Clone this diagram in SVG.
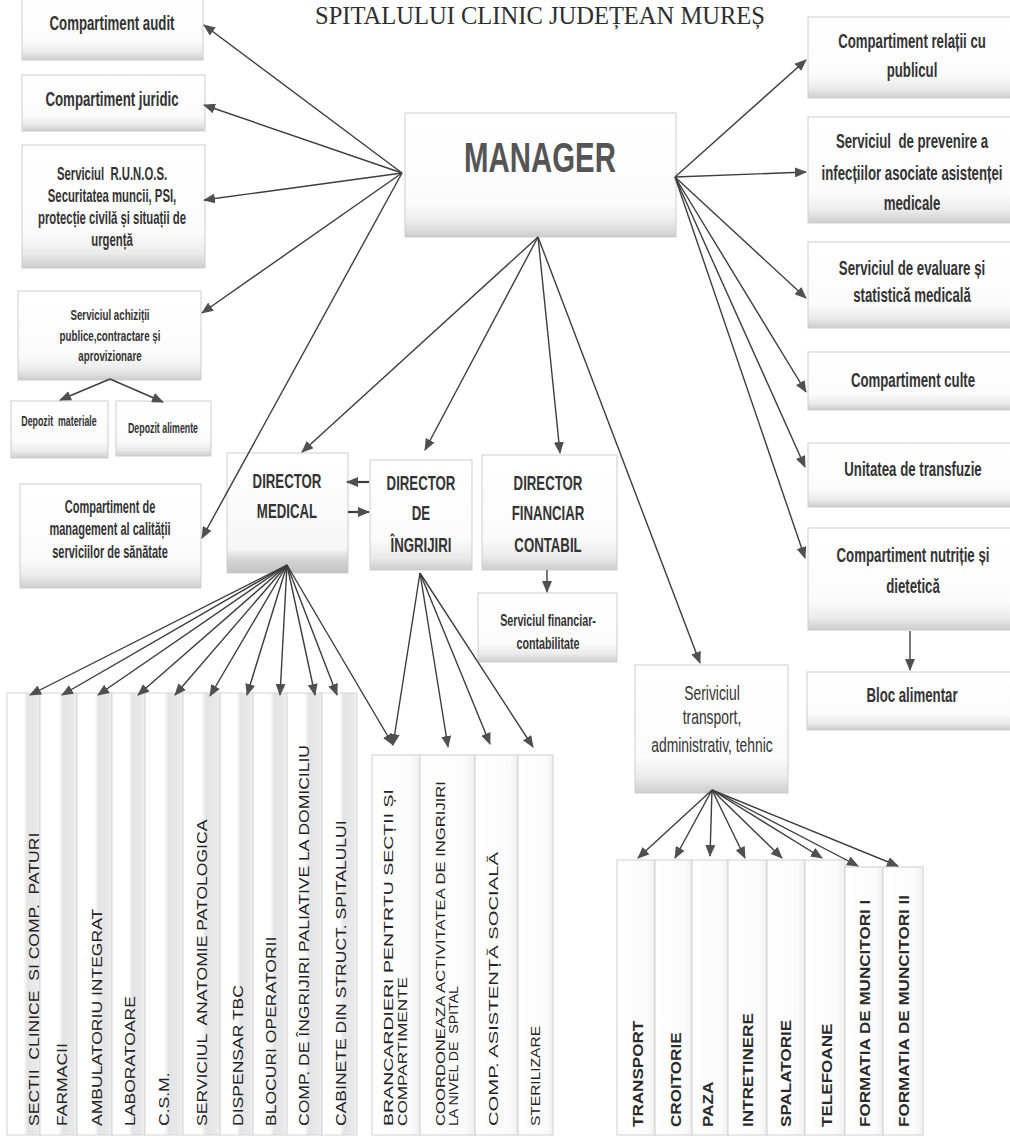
<svg xmlns="http://www.w3.org/2000/svg" width="1010" height="1139" viewBox="0 0 1010 1139">
<defs>
<linearGradient id="gb" x1="0" y1="0" x2="0" y2="1">
<stop offset="0" stop-color="#ffffff"/><stop offset="0.72" stop-color="#fbfbfb"/><stop offset="0.88" stop-color="#ebebeb"/><stop offset="1" stop-color="#cdcdcd"/>
</linearGradient>
<linearGradient id="gd" x1="0" y1="0" x2="0" y2="1">
<stop offset="0" stop-color="#ffffff"/><stop offset="0.8" stop-color="#f6f6f6"/><stop offset="0.88" stop-color="#d6d6d6"/><stop offset="1" stop-color="#c2c2c2"/>
</linearGradient>
<linearGradient id="gc" x1="0" y1="0" x2="1" y2="0">
<stop offset="0" stop-color="#ffffff"/><stop offset="0.5" stop-color="#ffffff"/><stop offset="0.62" stop-color="#e4e4e4"/><stop offset="0.92" stop-color="#e9e9e9"/><stop offset="1" stop-color="#f7f7f7"/>
</linearGradient>
<linearGradient id="gw" x1="0" y1="0" x2="1" y2="0">
<stop offset="0" stop-color="#ffffff"/><stop offset="0.8" stop-color="#fbfbfb"/><stop offset="1" stop-color="#efefef"/>
</linearGradient>
<marker id="ah" viewBox="0 0 12 10" refX="11" refY="5" markerWidth="12" markerHeight="10" markerUnits="userSpaceOnUse" orient="auto">
<path d="M0,0 L12,5 L0,10 z" fill="#505050"/>
</marker>
</defs>
<style>
.bx{fill:url(#gb);stroke:#cdcdcd;stroke-width:1}
.bd{fill:url(#gd);stroke:#cdcdcd;stroke-width:1}
.col{fill:url(#gc);stroke:#d4d4d4;stroke-width:1}
.colw{fill:url(#gw);stroke:#d0d0d0;stroke-width:1}
.t{font-family:"Liberation Sans",Arial,sans-serif;font-weight:bold;fill:#333;text-anchor:middle}
.tn{font-family:"Liberation Sans",Arial,sans-serif;fill:#333;text-anchor:middle}
.v{font-family:"Liberation Sans",Arial,sans-serif;font-size:15px;fill:#222}
.vs{font-family:"Liberation Sans",Arial,sans-serif;font-size:13px;fill:#222}
.vb{font-family:"Liberation Sans",Arial,sans-serif;font-size:14px;font-weight:bold;fill:#2a2a2a}
.c{stroke:#3d3d3d;stroke-width:1.4;fill:none;marker-end:url(#ah)}
.k{stroke:#3d3d3d;stroke-width:2.2;fill:none;marker-end:url(#ah)}
</style>
<rect x="0" y="0" width="1010" height="1139" fill="#ffffff"/>

<text id="title" x="315" y="24" font-family="Liberation Serif, serif" font-size="26" fill="#2e2e2e" textLength="450" lengthAdjust="spacingAndGlyphs">SPITALULUI CLINIC JUDEȚEAN MUREȘ</text>

<g id="manager">
<rect class="bx" x="405" y="113" width="271" height="124"/>
<g transform="translate(540,0) scale(0.7,1)"><text class="t" y="172" font-size="42" style="fill:#555">MANAGER</text></g>
</g>

<g id="audit">
<rect class="bx" x="22" y="-5" width="181" height="65"/>
<g transform="translate(112,0) scale(0.63,1)"><text class="t" y="30" font-size="21">Compartiment audit</text></g>
</g>
<g id="juridic">
<rect class="bx" x="22" y="75" width="183" height="56"/>
<g transform="translate(112,0) scale(0.63,1)"><text class="t" y="106" font-size="21">Compartiment juridic</text></g>
</g>
<g id="runos">
<rect class="bx" x="22" y="145" width="183" height="123"/>
<g transform="translate(112,0) scale(0.63,1)">
<text class="t" y="180" font-size="18" xml:space="preserve">Serviciul  R.U.N.O.S.</text>
<text class="t" y="202" font-size="18">Securitatea muncii, PSI,</text>
<text class="t" y="224" font-size="18">protecție civilă și situații de</text>
<text class="t" y="246" font-size="18">urgență</text>
</g>
</g>
<g id="achizitii">
<rect class="bx" x="18" y="291" width="183" height="89"/>
<g transform="translate(110,0) scale(0.63,1)">
<text class="t" y="320" font-size="15.5">Serviciul achiziții</text>
<text class="t" y="341" font-size="15.5">publice,contractare și</text>
<text class="t" y="361" font-size="15.5">aprovizionare</text>
</g>
</g>
<g id="depozit-materiale">
<rect class="bx" x="11" y="401" width="97" height="57"/>
<g transform="translate(59,0) scale(0.63,1)"><text class="t" y="426" font-size="14" xml:space="preserve">Depozit  materiale</text></g>
</g>
<g id="depozit-alimente">
<rect class="bx" x="116" y="401" width="95" height="55"/>
<g transform="translate(163,0) scale(0.63,1)"><text class="t" y="433" font-size="14">Depozit alimente</text></g>
</g>
<g id="management-calitate">
<rect class="bx" x="20" y="484" width="181" height="104"/>
<g transform="translate(110,0) scale(0.63,1)">
<text class="t" y="513" font-size="17.5">Compartiment de</text>
<text class="t" y="535" font-size="17.5">management al calității</text>
<text class="t" y="558" font-size="17.5">serviciilor de sănătate</text>
</g>
</g>

<g id="director-medical">
<rect class="bd" x="227" y="453" width="121" height="120"/>
<g transform="translate(287,0) scale(0.63,1)">
<text class="t" y="488" font-size="21">DIRECTOR</text>
<text class="t" y="518" font-size="21">MEDICAL</text>
</g>
</g>
<g id="director-ingrijiri">
<rect class="bx" x="370" y="460" width="102" height="110"/>
<g transform="translate(421,0) scale(0.63,1)">
<text class="t" y="490" font-size="21">DIRECTOR</text>
<text class="t" y="520" font-size="21">DE</text>
<text class="t" y="552" font-size="21">ÎNGRIJIRI</text>
</g>
</g>
<g id="director-financiar">
<rect class="bx" x="482" y="455" width="135" height="115"/>
<g transform="translate(548,0) scale(0.63,1)">
<text class="t" y="490" font-size="21">DIRECTOR</text>
<text class="t" y="520" font-size="21">FINANCIAR</text>
<text class="t" y="552" font-size="21">CONTABIL</text>
</g>
</g>
<g id="serviciul-financiar">
<rect class="bx" x="478" y="593" width="139" height="69"/>
<g transform="translate(548,0) scale(0.63,1)">
<text class="t" y="626" font-size="17">Serviciul financiar-</text>
<text class="t" y="649" font-size="17">contabilitate</text>
</g>
</g>

<g id="relatii-public">
<rect class="bx" x="808" y="17" width="207" height="81"/>
<g transform="translate(912,0) scale(0.63,1)">
<text class="t" y="48" font-size="21">Compartiment relații cu</text>
<text class="t" y="77" font-size="21">publicul</text>
</g>
</g>
<g id="prevenire-infectii">
<rect class="bx" x="808" y="117" width="207" height="106"/>
<g transform="translate(912,0) scale(0.63,1)">
<text class="t" y="148" font-size="21" xml:space="preserve">Serviciul  de prevenire a</text>
<text class="t" y="180" font-size="21">infecțiilor asociate asistenței</text>
<text class="t" y="210" font-size="21">medicale</text>
</g>
</g>
<g id="evaluare-statistica">
<rect class="bx" x="808" y="242" width="207" height="86"/>
<g transform="translate(912,0) scale(0.63,1)">
<text class="t" y="275" font-size="21">Serviciul de evaluare și</text>
<text class="t" y="302" font-size="21">statistică medicală</text>
</g>
</g>
<g id="culte">
<rect class="bx" x="808" y="352" width="207" height="58"/>
<g transform="translate(913,0) scale(0.63,1)"><text class="t" y="387" font-size="21">Compartiment culte</text></g>
</g>
<g id="transfuzie">
<rect class="bx" x="808" y="443" width="207" height="64"/>
<g transform="translate(913,0) scale(0.63,1)"><text class="t" y="476" font-size="21">Unitatea de transfuzie</text></g>
</g>
<g id="nutritie">
<rect class="bx" x="808" y="528" width="207" height="102"/>
<g transform="translate(913,0) scale(0.63,1)">
<text class="t" y="562" font-size="21">Compartiment nutriție și</text>
<text class="t" y="593" font-size="21">dietetică</text>
</g>
</g>
<g id="bloc-alimentar">
<rect class="bx" x="807" y="672" width="208" height="58"/>
<g transform="translate(912,0) scale(0.63,1)"><text class="t" y="702" font-size="21">Bloc alimentar</text></g>
</g>
<g id="transport-administrativ">
<rect class="bx" x="635" y="665" width="153" height="128"/>
<g transform="translate(712,0) scale(0.66,1)">
<text class="tn" y="700" font-size="21">Seriviciul</text>
<text class="tn" y="724" font-size="21">transport,</text>
<text class="tn" y="752" font-size="21">administrativ, tehnic</text>
</g>
</g>

<g id="medical-units">
<g id="col-sectii"><rect class="col" x="7" y="693" width="33" height="442"/><text class="v" transform="translate(39,1126) rotate(-90) scale(1.17,1)" xml:space="preserve">SECTII  CLINICE  SI COMP.  PATURI</text></g>
<g id="col-farmacii"><rect class="col" x="40" y="693" width="37" height="442"/><text class="v" transform="translate(67,1126) rotate(-90) scale(1.17,1)">FARMACII</text></g>
<g id="col-ambulatoriu"><rect class="col" x="77" y="693" width="35" height="442"/><text class="v" transform="translate(102,1126) rotate(-90) scale(1.17,1)">AMBULATORIU INTEGRAT</text></g>
<g id="col-laboratoare"><rect class="col" x="112" y="693" width="33" height="442"/><text class="v" transform="translate(135,1126) rotate(-90) scale(1.17,1)">LABORATOARE</text></g>
<g id="col-csm"><rect class="col" x="145" y="693" width="38" height="442"/><text class="v" transform="translate(169,1126) rotate(-90) scale(1.17,1)">C.S.M.</text></g>
<g id="col-anatomie"><rect class="col" x="183" y="693" width="37" height="442"/><text class="v" transform="translate(207,1126) rotate(-90) scale(1.17,1)" xml:space="preserve">SERVICIUL  ANATOMIE PATOLOGICA</text></g>
<g id="col-dispensar"><rect class="col" x="220" y="693" width="33" height="442"/><text class="v" transform="translate(243,1126) rotate(-90) scale(1.17,1)">DISPENSAR TBC</text></g>
<g id="col-blocuri"><rect class="col" x="253" y="693" width="34" height="442"/><text class="v" transform="translate(276,1126) rotate(-90) scale(1.17,1)">BLOCURI OPERATORII</text></g>
<g id="col-paliative"><rect class="col" x="287" y="693" width="35" height="442"/><text class="v" transform="translate(309,1126) rotate(-90) scale(1.17,1)">COMP. DE ÎNGRIJIRI PALIATIVE LA DOMICILIU</text></g>
<g id="col-cabinete"><rect class="col" x="322" y="693" width="35" height="442"/><text class="v" transform="translate(346,1126) rotate(-90) scale(1.17,1)">CABINETE DIN STRUCT. SPITALULUI</text></g>
</g>

<g id="ingrijiri-units">
<g id="col-brancardieri"><rect class="colw" x="372" y="755" width="48" height="380"/>
<text class="vs" transform="translate(393,1126) rotate(-90)" textLength="337" lengthAdjust="spacingAndGlyphs">BRANCARDIERI PENTRTU SECȚII ȘI</text>
<text class="vs" transform="translate(407,1126) rotate(-90)" textLength="149" lengthAdjust="spacingAndGlyphs">COMPARTIMENTE</text></g>
<g id="col-coordoneaza"><rect class="colw" x="420" y="755" width="55" height="380"/>
<text class="vs" transform="translate(445,1126) rotate(-90)" textLength="345" lengthAdjust="spacingAndGlyphs">COORDONEAZA ACTIVITATEA DE INGRIJIRI</text>
<text class="vs" transform="translate(458,1126) rotate(-90)" textLength="140" lengthAdjust="spacingAndGlyphs" xml:space="preserve">LA NIVEL DE  SPITAL</text></g>
<g id="col-asistenta"><rect class="colw" x="475" y="755" width="43" height="380"/>
<text class="vs" transform="translate(498,1126) rotate(-90)" textLength="274" lengthAdjust="spacingAndGlyphs">COMP. ASISTENȚĂ SOCIALĂ</text></g>
<g id="col-sterilizare"><rect class="colw" x="518" y="755" width="35" height="380"/>
<text class="vs" transform="translate(540,1126) rotate(-90)" textLength="100" lengthAdjust="spacingAndGlyphs">STERILIZARE</text></g>
</g>

<g id="transport-units">
<g id="col-transport"><rect class="colw" x="617" y="860" width="38" height="275"/><text class="vb" transform="translate(643,1127) rotate(-90) scale(1.22,1)">TRANSPORT</text></g>
<g id="col-croitorie"><rect class="colw" x="655" y="860" width="37" height="275"/><text class="vb" transform="translate(681,1127) rotate(-90) scale(1.22,1)">CROITORIE</text></g>
<g id="col-paza"><rect class="colw" x="692" y="860" width="36" height="275"/><text class="vb" transform="translate(713,1127) rotate(-90) scale(1.22,1)">PAZA</text></g>
<g id="col-intretinere"><rect class="colw" x="728" y="860" width="39" height="275"/><text class="vb" transform="translate(753,1127) rotate(-90) scale(1.22,1)">INTRETINERE</text></g>
<g id="col-spalatorie"><rect class="colw" x="767" y="860" width="38" height="275"/><text class="vb" transform="translate(791,1127) rotate(-90) scale(1.22,1)">SPALATORIE</text></g>
<g id="col-telefoane"><rect class="colw" x="805" y="860" width="40" height="275"/><text class="vb" transform="translate(832,1127) rotate(-90) scale(1.22,1)">TELEFOANE</text></g>
<g id="col-formatia-1"><rect class="colw" x="845" y="867" width="38" height="268"/><text class="vb" transform="translate(870,1127) rotate(-90) scale(1.22,1)">FORMATIA DE MUNCITORI I</text></g>
<g id="col-formatia-2"><rect class="colw" x="883" y="867" width="40" height="268"/><text class="vb" transform="translate(909,1127) rotate(-90) scale(1.22,1)">FORMATIA DE MUNCITORI II</text></g>
</g>

<g id="connectors">
<line class="c" x1="402" y1="173" x2="204" y2="25"/>
<line class="c" x1="402" y1="173" x2="204" y2="105"/>
<line class="c" x1="402" y1="173" x2="204" y2="200"/>
<line class="c" x1="402" y1="173" x2="202" y2="313"/>
<line class="c" x1="402" y1="173" x2="202" y2="538"/>
<line class="c" x1="675" y1="177" x2="806" y2="60"/>
<line class="c" x1="675" y1="177" x2="806" y2="172"/>
<line class="c" x1="675" y1="177" x2="806" y2="298"/>
<line class="c" x1="675" y1="177" x2="806" y2="392"/>
<line class="c" x1="675" y1="177" x2="805" y2="467"/>
<line class="c" x1="675" y1="177" x2="805" y2="558"/>
<line class="c" x1="538" y1="237" x2="302" y2="452"/>
<line class="c" x1="538" y1="237" x2="425" y2="450"/>
<line class="c" x1="538" y1="237" x2="560" y2="453"/>
<line class="c" x1="538" y1="237" x2="700" y2="663"/>
<line class="c" x1="110" y1="379" x2="60" y2="400"/>
<line class="c" x1="110" y1="379" x2="163" y2="402"/>
<line class="c" x1="547" y1="570" x2="547" y2="592"/>
<line class="c" x1="910" y1="631" x2="910" y2="670"/>
<line class="k" x1="369" y1="482" x2="347" y2="482"/>
<line class="k" x1="348" y1="512" x2="369" y2="512"/>
<line class="c" x1="287" y1="565" x2="30" y2="695"/>
<line class="c" x1="287" y1="565" x2="62" y2="695"/>
<line class="c" x1="287" y1="565" x2="98" y2="695"/>
<line class="c" x1="287" y1="565" x2="138" y2="695"/>
<line class="c" x1="287" y1="565" x2="175" y2="695"/>
<line class="c" x1="287" y1="565" x2="210" y2="696"/>
<line class="c" x1="287" y1="565" x2="247" y2="695"/>
<line class="c" x1="287" y1="565" x2="280" y2="695"/>
<line class="c" x1="287" y1="565" x2="315" y2="695"/>
<line class="c" x1="287" y1="565" x2="337" y2="695"/>
<line class="c" x1="287" y1="565" x2="393" y2="745"/>
<line class="c" x1="420" y1="573" x2="393" y2="745"/>
<line class="c" x1="420" y1="573" x2="448" y2="747"/>
<line class="c" x1="420" y1="573" x2="490" y2="744"/>
<line class="c" x1="420" y1="573" x2="533" y2="747"/>
<line class="c" x1="712" y1="790" x2="638" y2="858"/>
<line class="c" x1="712" y1="790" x2="675" y2="858"/>
<line class="c" x1="712" y1="790" x2="710" y2="856"/>
<line class="c" x1="712" y1="790" x2="745" y2="858"/>
<line class="c" x1="712" y1="790" x2="782" y2="858"/>
<line class="c" x1="712" y1="790" x2="822" y2="858"/>
<line class="c" x1="712" y1="790" x2="858" y2="866"/>
<line class="c" x1="712" y1="790" x2="898" y2="866"/>
</g>
</svg>
